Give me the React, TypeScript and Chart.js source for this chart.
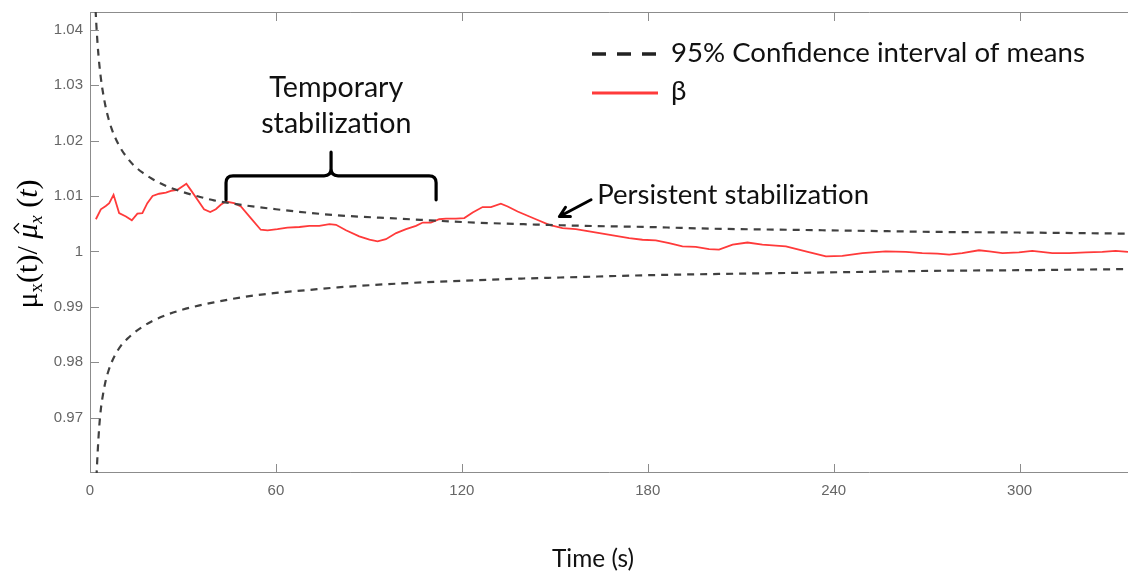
import React, { useEffect, useRef } from "react";
import { Chart, registerables } from "chart.js";

Chart.register(...registerables);

// ---------- data ----------
const xTickValues = [0, 60, 120, 180, 240, 300];
const yTickValues = [0.97, 0.98, 0.99, 1.0, 1.01, 1.02, 1.03, 1.04];

const ciTimes = [1.8, 2, 2.5, 3, 3.5, 4, 5, 6, 7, 8, 10, 12, 14, 17, 20, 25, 30, 35, 40, 50, 60, 70, 80, 100, 120, 140, 160, 180, 200, 225, 250, 275, 300, 335];
const ciUpper = [1.0436, 1.0414, 1.037, 1.0338, 1.0313, 1.0293, 1.0262, 1.0239, 1.0221, 1.0207, 1.0185, 1.0169, 1.0156, 1.0142, 1.0131, 1.0117, 1.0107, 1.0099, 1.0092, 1.0083, 1.0076, 1.007, 1.0065, 1.0059, 1.0053, 1.0049, 1.0046, 1.0044, 1.0041, 1.0039, 1.0037, 1.0035, 1.0034, 1.0032];
const ciLower = [0.9545, 0.958, 0.964, 0.9685, 0.9715, 0.9735, 0.9765, 0.9785, 0.98, 0.9812, 0.983, 0.9842, 0.9852, 0.9864, 0.9874, 0.9886, 0.9895, 0.9902, 0.9908, 0.9918, 0.9925, 0.993, 0.9935, 0.9942, 0.9947, 0.9951, 0.9954, 0.9957, 0.9959, 0.9961, 0.9963, 0.9965, 0.9966, 0.9968];

const betaTimes = [1.9, 3.5, 5.1, 6.2, 7.6, 9.4, 11.6, 13.5, 15.3, 16.9, 18.5, 20.2, 22.3, 24.5, 26.1, 28.2, 29.8, 31.1, 32.5, 34.7, 36.8, 38.8, 40.6, 42.2, 43.8, 46.5, 48.7, 51.9, 55.1, 57.3, 60.5, 63.7, 67.6, 70.8, 74, 77.3, 79.4, 82.6, 86.9, 90.2, 92.8, 95.5, 98.8, 102, 105.2, 107.4, 110, 112.7, 114.9, 118.1, 120.8, 123.5, 126.7, 129.4, 132.6, 134.8, 138, 143.9, 148.2, 152.5, 156.8, 161.1, 165.4, 169.7, 174, 178.3, 182.6, 186.9, 191.2, 195.5, 199.8, 203, 207.4, 212.2, 217, 224.6, 231, 237.5, 242.8, 249.3, 256.8, 263.3, 268.6, 273.5, 277.3, 281.5, 286.9, 290.2, 294.5, 299.8, 304.1, 310.6, 316, 321.4, 326.7, 331, 335];
const betaValues = [1.0058, 1.0076, 1.0082, 1.0087, 1.0102, 1.0069, 1.0063, 1.0056, 1.0068, 1.0069, 1.0087, 1.01, 1.0104, 1.0106, 1.0109, 1.0111, 1.0117, 1.0122, 1.0111, 1.0093, 1.0076, 1.0071, 1.0076, 1.0084, 1.009, 1.0087, 1.0081, 1.006, 1.0039, 1.0038, 1.004, 1.0043, 1.0044, 1.0046, 1.0046, 1.0049, 1.0048, 1.0038, 1.0027, 1.0021, 1.0018, 1.0022, 1.0033, 1.004, 1.0046, 1.0052, 1.0052, 1.0058, 1.0059, 1.0059, 1.006, 1.007, 1.008, 1.008, 1.0086, 1.0081, 1.0072, 1.0058, 1.0048, 1.0042, 1.004, 1.0036, 1.0032, 1.0028, 1.0024, 1.0021, 1.002, 1.0015, 1.0009, 1.0008, 1.0004, 1.0003, 1.0012, 1.0016, 1.0012, 1.0009, 1.0, 0.9991, 0.9992, 0.9997, 1.0, 0.9999, 0.9997, 0.9996, 0.9994, 0.9997, 1.0002, 1.0, 0.9997, 0.9998, 1.0001, 0.9997, 0.9997, 0.9998, 0.9999, 1.0001, 0.9999];

const ciLabel = "95% Confidence interval of means";
const betaLabel = "β";
const xTitle = "Time (s)";
const tempLines = ["Temporary", "stabilization"];
const persistText = "Persistent stabilization";

const SANS = 'Lato, "Open Sans", sans-serif';
const SERIF = '"Liberation Serif", "DejaVu Serif", serif';

function fitSize(ctx: CanvasRenderingContext2D, text: string, family: string, width: number) {
  ctx.font = `100px ${family}`;
  const w = ctx.measureText(text).width;
  return (100 * width) / w;
}

const decorPlugin = {
  id: "decor",
  beforeDatasetsDraw(chart: any) {
    const { ctx, chartArea: a, scales } = chart;
    const xs = scales.x, ys = scales.y;
    ctx.save();
    ctx.strokeStyle = "#8c8c8c";
    ctx.lineWidth = 1;
    ctx.beginPath();
    ctx.moveTo(a.right + 2, a.top + 0.5);
    ctx.lineTo(a.left + 0.5, a.top + 0.5);
    ctx.lineTo(a.left + 0.5, a.bottom - 0.5);
    ctx.lineTo(a.right + 2, a.bottom - 0.5);
    ctx.stroke();
    const tl = 9;
    ctx.beginPath();
    xs.ticks.forEach((t: any) => {
      const px = Math.round(xs.getPixelForValue(t.value)) + 0.5;
      ctx.moveTo(px, a.bottom);
      ctx.lineTo(px, a.bottom - tl);
      ctx.moveTo(px, a.top);
      ctx.lineTo(px, a.top + tl);
    });
    ys.ticks.forEach((t: any) => {
      const py = Math.round(ys.getPixelForValue(t.value)) + 0.5;
      ctx.moveTo(a.left, py);
      ctx.lineTo(a.left + tl, py);
    });
    ctx.stroke();
    ctx.restore();
  },
  afterDraw(chart: any) {
    const { ctx, scales } = chart;
    const xs = scales.x, ys = scales.y;
    const X = (t: number) => xs.getPixelForValue(t);
    const Y = (v: number) => ys.getPixelForValue(v);
    ctx.save();

    // legend
    const ds = chart.data.datasets;
    const legendFont = fitSize(ctx, ciLabel, SANS, 414);
    ctx.lineCap = "butt";
    ctx.strokeStyle = "#222";
    ctx.lineWidth = 3.5;
    ctx.setLineDash([14, 11]);
    ctx.beginPath();
    ctx.moveTo(592, 54);
    ctx.lineTo(656, 54);
    ctx.stroke();
    ctx.setLineDash([]);
    ctx.strokeStyle = ds[2].borderColor;
    ctx.lineWidth = 3;
    ctx.beginPath();
    ctx.moveTo(592, 93);
    ctx.lineTo(658, 93);
    ctx.stroke();
    ctx.fillStyle = "#111";
    ctx.textAlign = "left";
    ctx.textBaseline = "alphabetic";
    ctx.font = `${legendFont}px ${SANS}`;
    ctx.fillText(ds[0].label, 671, 62);
    ctx.fillText(ds[2].label, 671, 100);

    // temporary stabilization text
    const tSize = fitSize(ctx, tempLines[0], SANS, 134);
    ctx.font = `${tSize}px ${SANS}`;
    ctx.textAlign = "center";
    ctx.fillText(tempLines[0], X(79.5), Y(1.0279));
    ctx.fillText(tempLines[1], X(79.5), Y(1.0214));

    // brace
    const L = X(43.9), R = X(111.7), M = X(77.8);
    const bar = Y(1.01364), foot = Y(1.0093), tip = Y(1.0179);
    const r = 7;
    ctx.strokeStyle = "#000";
    ctx.lineWidth = 3.2;
    ctx.lineCap = "round";
    ctx.lineJoin = "round";
    ctx.beginPath();
    ctx.moveTo(L, foot);
    ctx.lineTo(L, bar + r);
    ctx.quadraticCurveTo(L, bar, L + r, bar);
    ctx.lineTo(M - r, bar);
    ctx.quadraticCurveTo(M, bar, M, bar - r);
    ctx.lineTo(M, tip);
    ctx.moveTo(R, foot);
    ctx.lineTo(R, bar + r);
    ctx.quadraticCurveTo(R, bar, R - r, bar);
    ctx.lineTo(M + r, bar);
    ctx.quadraticCurveTo(M, bar, M, bar - r);
    ctx.stroke();

    // persistent stabilization
    const pSize = fitSize(ctx, persistText, SANS, 272);
    ctx.font = `${pSize}px ${SANS}`;
    ctx.textAlign = "left";
    ctx.fillText(persistText, X(163.7), Y(1.0086));
    const tx = X(161.7), ty = Y(1.00931), hx = X(151.5), hy = Y(1.0063);
    ctx.lineWidth = 3;
    ctx.beginPath();
    ctx.moveTo(tx, ty);
    ctx.lineTo(hx, hy);
    const ang = Math.atan2(hy - ty, hx - tx);
    const hl = 11;
    ctx.moveTo(hx + hl * Math.cos(ang + Math.PI - 0.5), hy + hl * Math.sin(ang + Math.PI - 0.5));
    ctx.lineTo(hx, hy);
    ctx.lineTo(hx + hl * Math.cos(ang + Math.PI + 0.5), hy + hl * Math.sin(ang + Math.PI + 0.5));
    ctx.stroke();

    // x title
    const xSize = fitSize(ctx, xTitle, SANS, 82);
    ctx.font = `${xSize}px ${SANS}`;
    ctx.textAlign = "center";
    ctx.fillText(xTitle, 593, 567);

    // y title
    ctx.translate(37, 244);
    ctx.rotate(-Math.PI / 2);
    const big = 30, small = 19;
    const pieces = [
      { t: "μ", f: `${big}px ${SERIF}`, dy: 0, hat: false },
      { t: "x", f: `${small}px ${SERIF}`, dy: 5, hat: false },
      { t: "(t)/ ", f: `${big}px ${SERIF}`, dy: 0, hat: false },
      { t: "μ", f: `italic ${big}px ${SERIF}`, dy: 0, hat: true },
      { t: "x", f: `italic ${small}px ${SERIF}`, dy: 5, hat: false },
      { t: " (", f: `${big}px ${SERIF}`, dy: 0, hat: false },
      { t: "t", f: `italic ${big}px ${SERIF}`, dy: 0, hat: false },
      { t: ")", f: `${big}px ${SERIF}`, dy: 0, hat: false },
    ];
    let total = 0;
    const widths = pieces.map((p) => {
      ctx.font = p.f;
      const w = ctx.measureText(p.t).width;
      total += w;
      return w;
    });
    let cx = -total / 2;
    ctx.textAlign = "left";
    ctx.fillStyle = "#000";
    ctx.strokeStyle = "#000";
    ctx.lineWidth = 1.2;
    ctx.lineCap = "butt";
    pieces.forEach((p, i) => {
      ctx.font = p.f;
      ctx.fillText(p.t, cx, p.dy);
      if (p.hat) {
        const c = cx + widths[i] / 2 + 3;
        ctx.beginPath();
        ctx.moveTo(c - 5, -18);
        ctx.lineTo(c, -23);
        ctx.lineTo(c + 5, -18);
        ctx.stroke();
      }
      cx += widths[i];
    });
    ctx.restore();
  },
};

export default function App() {
  const ref = useRef<HTMLCanvasElement>(null);
  useEffect(() => {
    document.body.style.margin = "0";
    const canvas = ref.current!;
    const chart = new Chart(canvas, {
      type: "line",
      data: {
        datasets: [
          {
            label: ciLabel,
            data: ciTimes.map((t, i) => ({ x: t, y: ciUpper[i] })),
            borderColor: "#404040",
            borderWidth: 2.2,
            borderDash: [7, 6],
            pointRadius: 0,
            cubicInterpolationMode: "monotone",
            fill: false,
          },
          {
            label: ciLabel + " (lower)",
            data: ciTimes.map((t, i) => ({ x: t, y: ciLower[i] })),
            borderColor: "#404040",
            borderWidth: 2.2,
            borderDash: [7, 6],
            pointRadius: 0,
            cubicInterpolationMode: "monotone",
            fill: false,
          },
          {
            label: betaLabel,
            data: betaTimes.map((t, i) => ({ x: t, y: betaValues[i] })),
            borderColor: "#ff3a3a",
            borderWidth: 1.8,
            pointRadius: 0,
            tension: 0,
            fill: false,
          },
        ],
      },
      options: {
        responsive: false,
        animation: false,
        layout: { padding: { left: 0, top: 12, right: 0, bottom: 0 } },
        plugins: { legend: { display: false }, tooltip: { enabled: false } },
        scales: {
          x: {
            type: "linear",
            min: 0,
            max: 335,
            afterBuildTicks: (s: any) => {
              s.ticks = xTickValues.map((v) => ({ value: v }));
            },
            afterFit: (s: any) => {
              s.height = 104;
              s.paddingLeft = 0;
              s.paddingRight = 0;
            },
            grid: { display: false, drawTicks: false },
            border: { display: false },
            ticks: {
              padding: 9,
              maxRotation: 0,
              autoSkip: false,
              color: "#666",
              font: { family: '"Liberation Sans", Arial, sans-serif', size: 15 },
            },
          },
          y: {
            type: "linear",
            min: 0.96,
            max: 1.0432,
            afterBuildTicks: (s: any) => {
              s.ticks = yTickValues.map((v) => ({ value: v }));
            },
            afterFit: (s: any) => {
              s.width = 90;
              s.paddingTop = 0;
              s.paddingBottom = 0;
            },
            grid: { display: false, drawTicks: false },
            border: { display: false },
            ticks: {
              padding: 7,
              color: "#666",
              font: { family: '"Liberation Sans", Arial, sans-serif', size: 15 },
              callback: (v: any) => String(parseFloat(Number(v).toFixed(2))),
            },
          },
        },
      },
      plugins: [decorPlugin],
    } as any);
    return () => chart.destroy();
  }, []);
  return (
    <div style={{ width: 1128, height: 577 }}>
      <canvas ref={ref} width={1128} height={577} style={{ display: "block" }} />
    </div>
  );
}
